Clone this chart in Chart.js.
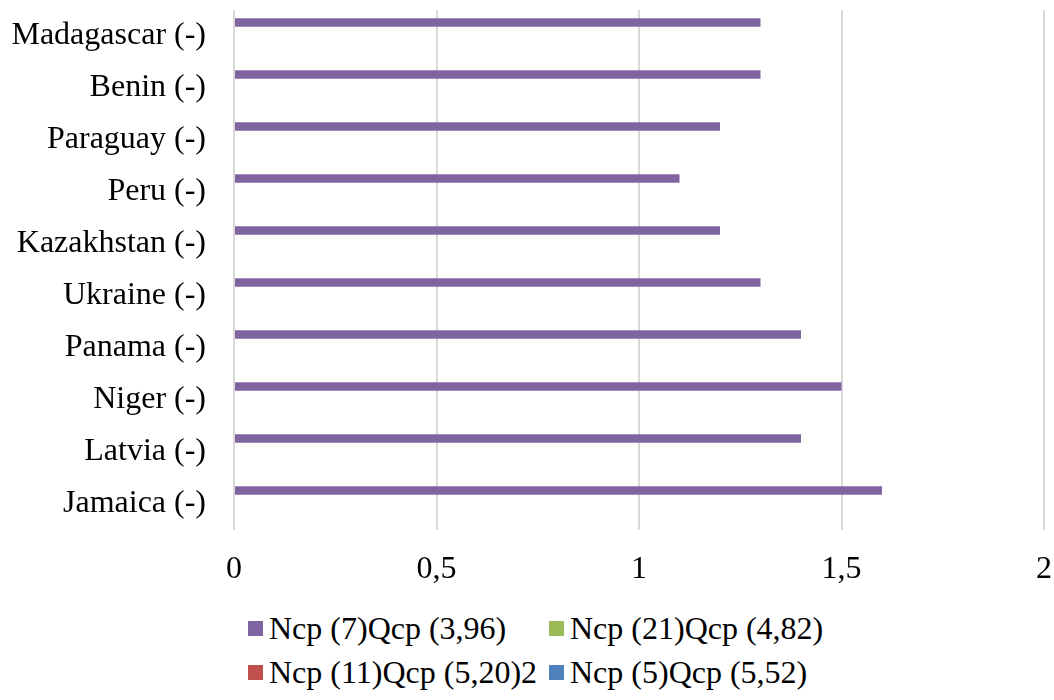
<!DOCTYPE html>
<html>
<head>
<meta charset="utf-8">
<script src="https://cdn.jsdelivr.net/npm/chart.js@4/dist/chart.umd.min.js"></script>
<style>
  body { margin: 0; background: #fff; }
  #wrap { position: relative; width: 1054px; height: 700px; }
  #box { position: absolute; left: 0; top: 0; width: 1054px; height: 600px; }
  #legenda { position: absolute; left: 0; top: 608px; width: 1054px; font-family: "Liberation Serif", "Times New Roman", serif; font-size: 32px; color: #000; }
  .item { position: absolute; display: flex; align-items: center; white-space: nowrap; line-height: 40px; }
  .cor { width: 15px; height: 15px; margin-right: 6px; }
</style>
</head>
<body>
<div id="wrap">
  <div id="box"><canvas id="grafico"></canvas></div>
  <div id="legenda"></div>
</div>
<script>
const paises = ["Madagascar (-)", "Benin (-)", "Paraguay (-)", "Peru (-)", "Kazakhstan (-)", "Ukraine (-)", "Panama (-)", "Niger (-)", "Latvia (-)", "Jamaica (-)"];
const ncp7 = [1.3, 1.3, 1.2, 1.1, 1.2, 1.3, 1.4, 1.5, 1.4, 1.6];
const ncp21 = [null, null, null, null, null, null, null, null, null, null];
const ncp11 = [null, null, null, null, null, null, null, null, null, null];
const ncp5 = [null, null, null, null, null, null, null, null, null, null];
const nomes = ["Ncp (7)Qcp (3,96)", "Ncp (21)Qcp (4,82)", "Ncp (11)Qcp (5,20)2", "Ncp (5)Qcp (5,52)"];
const cores = ["#8064a2", "#9bbb59", "#c0504d", "#4f81bd"];
const ticksX = ["0", "0,5", "1", "1,5", "2"];

const fonte = { family: "'Liberation Serif', 'Times New Roman', serif", size: 32 };

// zera o padding extra que o Chart.js reserva para os rótulos
const semPadding = s => {
  s.paddingTop = 0; s.paddingBottom = 0; s.paddingLeft = 0; s.paddingRight = 0;
};

new Chart(document.getElementById("grafico").getContext("2d"), {
  type: "bar",
  data: {
    labels: paises,
    datasets: [ncp7, ncp21, ncp11, ncp5].map((d, i) => ({
      label: nomes[i],
      data: d,
      backgroundColor: cores[i],
      borderWidth: 0,
      categoryPercentage: 0.69,
      barPercentage: 0.95
    }))
  },
  options: {
    indexAxis: "y",
    responsive: true,
    maintainAspectRatio: false,
    animation: false,
    layout: { padding: { top: 10, right: 10, left: 0, bottom: 0 } },
    plugins: { legend: { display: false }, tooltip: { enabled: false } },
    scales: {
      x: {
        min: 0, max: 2,
        ticks: {
          stepSize: 0.5, color: "#000", font: fonte, padding: 20,
          callback: (v, i) => ticksX[i]
        },
        grid: { color: "#d9d9d9", lineWidth: 2, drawTicks: false },
        border: { display: false },
        afterFit: s => { s.height = 70; semPadding(s); }
      },
      y: {
        ticks: { color: "#000", font: fonte, padding: 28 },
        grid: { display: false, drawTicks: false },
        border: { display: false },
        afterFit: s => { s.width = 234; semPadding(s); }
      }
    }
  }
});

const legenda = document.getElementById("legenda");
const posicoes = [[248, 0], [549, 0], [248, 44], [549, 44]];
nomes.forEach((n, i) => {
  const item = document.createElement("div");
  item.className = "item";
  item.style.left = posicoes[i][0] + "px";
  item.style.top = posicoes[i][1] + "px";
  item.innerHTML = `<span class="cor" style="background:${cores[i]}"></span><span>${n}</span>`;
  legenda.appendChild(item);
});
</script>
</body>
</html>
